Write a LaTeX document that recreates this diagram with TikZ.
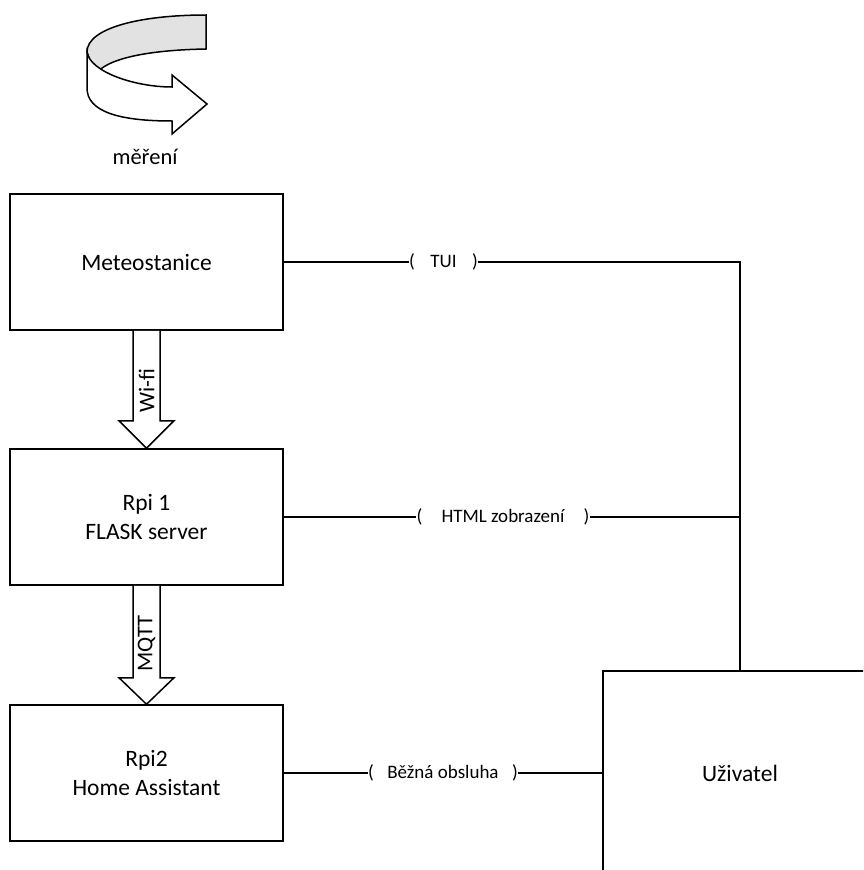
\documentclass[tikz,border=0pt]{standalone}
\usepackage{fontspec}
\setmainfont{Carlito}
\usetikzlibrary{calc}
\tikzset{
  box/.style={draw=black, line width=1.5pt, fill=white, minimum width=273pt, minimum height=136pt, inner sep=0pt, align=center, font=\fontsize{23.5}{28.5}\selectfont},
  conn/.style={draw=black, line width=1.5pt},
  lbl/.style={inner sep=0pt, font=\fontsize{19}{22}\selectfont},
  blk/.style={draw=black, line width=1.5pt, fill=white, line join=miter},
  arrtxt/.style={rotate=90, inner sep=0pt, font=\fontsize{22.5}{26}\selectfont}
}
\begin{document}
\begin{tikzpicture}[x=1pt, y=-1pt]
\useasboundingbox (0,0) rectangle (863,870);
\clip (0,0) rectangle (863,870);
\fill[white] (0,0) rectangle (863,870);
% curved arrow (measurement loop)
\path[blk, fill={rgb,255:red,226;green,226;blue,226}]
  (87,52) .. controls (87,28) and (140,15) .. (206,15) -- (206,49)
  .. controls (150,50) and (106,58) .. (95,75) -- cycle;
\path[blk]
  (87,52) -- (87,88) .. controls (87,112) and (120,121) .. (172,121)
  -- (172,134) -- (207,104) -- (172,75) -- (172,87)
  .. controls (135,87) and (90,72) .. (87,52) -- cycle;
\node[lbl, font=\fontsize{22.5}{26}\selectfont] (mereni) at (145,157) {měření};
% boxes
\node[box] (meteo) at (146.5,262) {Meteostanice};
\node[box] (rpi1) at (146.5,517) {Rpi 1\\FLASK server};
\node[box] (rpi2) at (146.5,773) {Rpi2\\Home Assistant};
\node[box, minimum width=274pt, minimum height=204pt] (user) at (740,773) {Uživatel};
% block arrows
\path[blk] ($(meteo.south)+(-13.5,0)$) -- ($(meteo.south)+(-13.5,90)$) -- ($(meteo.south)+(-27.5,90)$)
  -- (rpi1.north) -- ($(meteo.south)+(27.5,90)$) -- ($(meteo.south)+(13.5,90)$) -- ($(meteo.south)+(13.5,0)$);
\node[arrtxt] (wifi) at ($(meteo.south)+(0,60)$) {Wi-fi};
\path[blk] ($(rpi1.south)+(-13.5,0)$) -- ($(rpi1.south)+(-13.5,92)$) -- ($(rpi1.south)+(-27.5,92)$)
  -- (rpi2.north) -- ($(rpi1.south)+(27.5,92)$) -- ($(rpi1.south)+(13.5,92)$) -- ($(rpi1.south)+(13.5,0)$);
\node[arrtxt] (mqtt) at ($(rpi1.south)+(0,58)$) {MQTT};
% labels
\node[lbl] (tui) at (443.5,262) {\makebox[69pt]{(\hfill TUI\hfill)}};
\node[lbl] (html) at (503,517) {\makebox[173pt]{(\hfill HTML zobrazení\hfill)}};
\node[lbl] (bezna) at (443,773) {\makebox[150pt]{(\hfill Běžná obsluha\hfill)}};
\coordinate (j1) at (meteo.east -| user.north);
\coordinate (j2) at (rpi1.east -| user.north);
% connectors
\draw[conn] (meteo.east) -- (tui.west);
\draw[conn] (tui.east) -- (j1) -- (user.north);
\draw[conn] (rpi1.east) -- (html.west);
\draw[conn] (html.east) -- (j2);
\draw[conn] (rpi2.east) -- (bezna.west);
\draw[conn] (bezna.east) -- (user.west);
\end{tikzpicture}
\end{document}
